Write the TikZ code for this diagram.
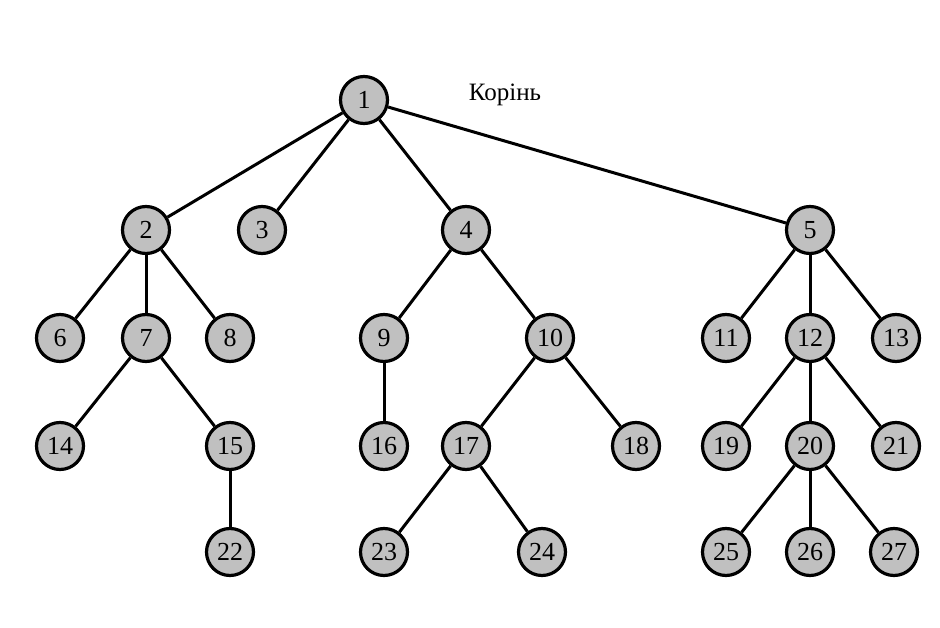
\documentclass[tikz,border=0pt]{standalone}
\usepackage{fontspec}
\setmainfont{Liberation Serif}
\begin{document}
\begin{tikzpicture}[x=1pt,y=-1pt,
  tn/.style={circle,draw=black,line width=3.2pt,fill={rgb,255:red,192;green,192;blue,192},minimum size=47pt,inner sep=0pt,font=\fontsize{26}{26}\selectfont},
  ed/.style={line width=3pt}]
\useasboundingbox (0,0) rectangle (940,628);
\node[tn] (n1) at (364,100) {1};
\node[tn] (n2) at (146,230) {2};
\node[tn] (n3) at (262,230) {3};
\node[tn] (n4) at (466,230) {4};
\node[tn] (n5) at (810,230) {5};
\node[tn] (n6) at (60,338) {6};
\node[tn] (n7) at (146,338) {7};
\node[tn] (n8) at (230,338) {8};
\node[tn] (n9) at (384,338) {9};
\node[tn] (n10) at (550,338) {10};
\node[tn] (n11) at (726,338) {11};
\node[tn] (n12) at (810,338) {12};
\node[tn] (n13) at (896,338) {13};
\node[tn] (n14) at (60,446) {14};
\node[tn] (n15) at (230,446) {15};
\node[tn] (n16) at (384,446) {16};
\node[tn] (n17) at (466,446) {17};
\node[tn] (n18) at (636,446) {18};
\node[tn] (n19) at (726,446) {19};
\node[tn] (n20) at (810,446) {20};
\node[tn] (n21) at (896,446) {21};
\node[tn] (n22) at (230,552) {22};
\node[tn] (n23) at (384,552) {23};
\node[tn] (n24) at (542,552) {24};
\node[tn] (n25) at (726,552) {25};
\node[tn] (n26) at (810,552) {26};
\node[tn] (n27) at (894,552) {27};
\node[font=\fontsize{25}{25}\selectfont] (lbl) at (505,95) {Корінь};
\foreach \a/\b in {n1/n2,n1/n3,n1/n4,n1/n5,n2/n6,n2/n7,n2/n8,n4/n9,n4/n10,n5/n11,n5/n12,n5/n13,n7/n14,n7/n15,n9/n16,n10/n17,n10/n18,n12/n19,n12/n20,n12/n21,n15/n22,n17/n23,n17/n24,n20/n25,n20/n26,n20/n27}
  \draw[ed] (\a) -- (\b);
\end{tikzpicture}
\end{document}
